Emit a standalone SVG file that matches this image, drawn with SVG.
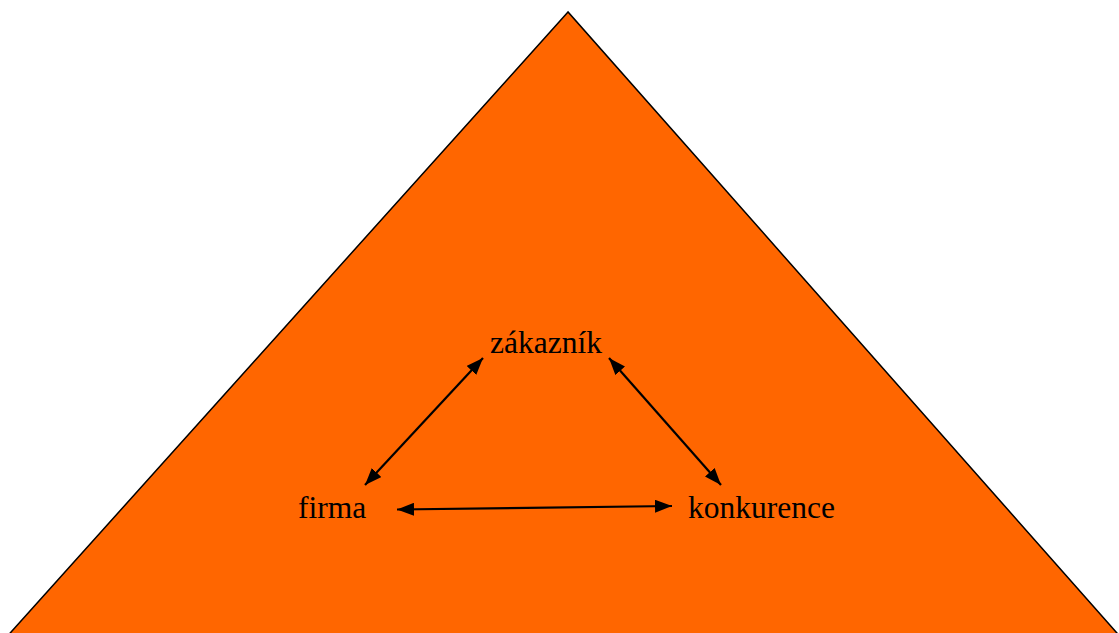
<svg xmlns="http://www.w3.org/2000/svg" width="1119" height="633" viewBox="0 0 1119 633">
<style>
.lbl{font-family:"Liberation Serif","Times New Roman",serif;font-size:31.5px;fill:#000}
.con{stroke:#000;stroke-width:2.2;fill:none;marker-start:url(#ah);marker-end:url(#ah)}
</style>
<defs>
<marker id="ah" viewBox="0 0 17 13" refX="17" refY="6.5" markerWidth="17" markerHeight="13" markerUnits="userSpaceOnUse" orient="auto-start-reverse">
<path d="M0,0 L17,6.5 L0,13 z" fill="#000"/>
</marker>
</defs>
<g id="pyramid">
<polygon points="568,12 3,641 1124,641" fill="#ff6600" stroke="#000" stroke-width="1.5"/>
</g>
<g id="connectors">
<line class="con" x1="483" y1="358" x2="365" y2="485"/>
<line class="con" x1="609" y1="358" x2="721" y2="485"/>
<line class="con" x1="397" y1="509.5" x2="672" y2="506"/>
</g>
<g id="zakaznik"><text class="lbl" x="490" y="353">zákazník</text></g>
<g id="firma"><text class="lbl" x="298" y="518">firma</text></g>
<g id="konkurence"><text class="lbl" x="688" y="518">konkurence</text></g>
</svg>
